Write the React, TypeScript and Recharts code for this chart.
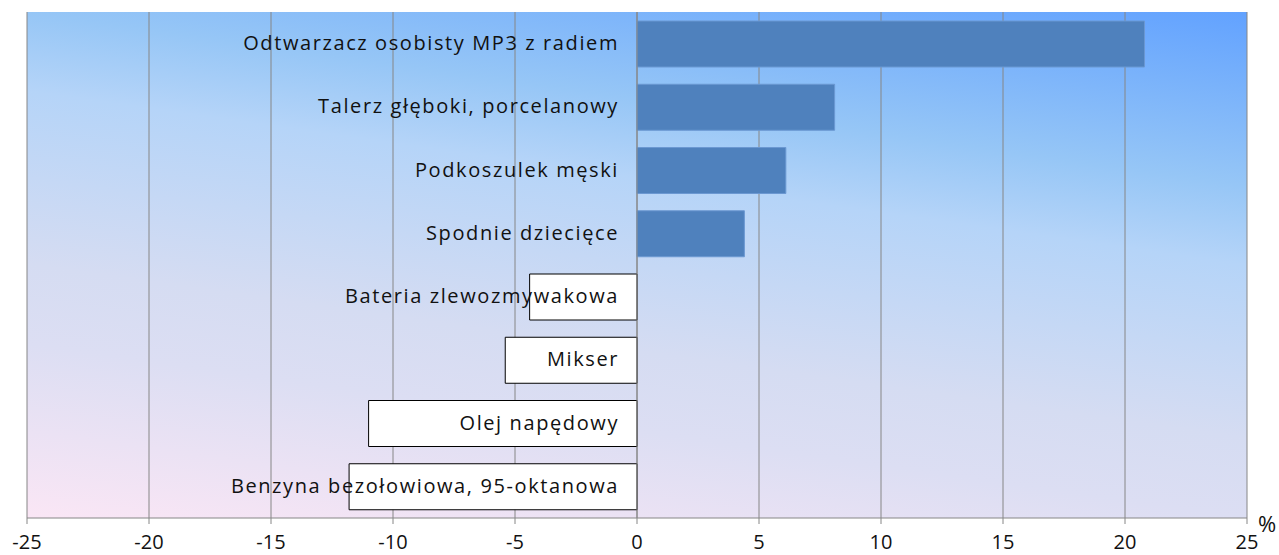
import React from 'react'
import {
  BarChart,
  Bar,
  XAxis,
  YAxis,
  CartesianGrid,
  ReferenceLine,
  LabelList,
  Cell,
} from 'recharts'

const categories = [
  'Odtwarzacz osobisty MP3 z radiem',
  'Talerz głęboki, porcelanowy',
  'Podkoszulek męski',
  'Spodnie dziecięce',
  'Bateria zlewozmywakowa',
  'Mikser',
  'Olej napędowy',
  'Benzyna bezołowiowa, 95-oktanowa',
]
const changes = [20.8, 8.1, 6.1, 4.4, -4.4, -5.4, -11.0, -11.8]
const xTicks = [-25, -20, -15, -10, -5, 0, 5, 10, 15, 20, 25]

const data = categories.map((name, i) => ({ name, value: changes[i] }))

const FONT = '"Open Sans", "DejaVu Sans", sans-serif'
const GRID = '#868686'

// category name drawn just left of the zero axis, right-aligned
function NameLabel(props: any) {
  const { x, y, width, height, value, index } = props
  const zero = width < 0 ? x : value >= 0 ? x : x + width
  return (
    <text
      x={zero - 18}
      y={y + height / 2}
      dy="0.3em"
      textAnchor="end"
      fontSize={20}
      letterSpacing={1.6}
      fontFamily={FONT}
      fill="#111"
    >
      {categories[index]}
    </text>
  )
}

export default function App() {
  return (
    <div style={{ position: 'absolute', left: 0, top: 0, background: '#fff' }}>
      <BarChart
        width={1279}
        height={555}
        data={data}
        layout="vertical"
        margin={{ top: 12, right: 32, left: 27, bottom: 0 }}
        barSize={46}
      >
        <defs>
          <linearGradient
            id="plot-bg"
            gradientUnits="userSpaceOnUse"
            x1="1247"
            y1="12"
            x2="1152"
            y2="678"
          >
            <stop offset="0" stopColor="#62A2FF" />
            <stop offset="0.256" stopColor="#96C6F6" />
            <stop offset="0.372" stopColor="#B5D4F8" />
            <stop offset="0.627" stopColor="#D5DCF2" />
            <stop offset="0.744" stopColor="#DCDEF3" />
            <stop offset="1" stopColor="#FAE6F5" />
          </linearGradient>
        </defs>
        <CartesianGrid
          horizontal={false}
          stroke={GRID}
          fill="url(#plot-bg)"
          fillOpacity={1}
        />
        <XAxis
          type="number"
          domain={[-25, 25]}
          ticks={xTicks}
          height={37}
          axisLine={{ stroke: GRID }}
          tickLine={{ stroke: GRID }}
          tickSize={6}
          tickMargin={11}
          tick={{ fill: '#111', fontSize: 20, fontFamily: FONT }}
          label={{
            value: '%',
            position: 'right',
            dx: 6,
            dy: -12,
            fill: '#111',
            fontSize: 22,
            fontFamily: FONT,
          }}
        />
        <YAxis type="category" dataKey="name" hide />
        <ReferenceLine x={0} stroke={GRID} />
        <Bar dataKey="value" isAnimationActive={false}>
          {data.map((d) => (
            <Cell
              key={d.name}
              fill={d.value >= 0 ? '#4F81BD' : '#FFFFFF'}
              stroke={d.value >= 0 ? '#6B98D2' : '#000000'}
              strokeWidth={1}
            />
          ))}
          <LabelList dataKey="value" content={<NameLabel />} />
        </Bar>
      </BarChart>
    </div>
  )
}
